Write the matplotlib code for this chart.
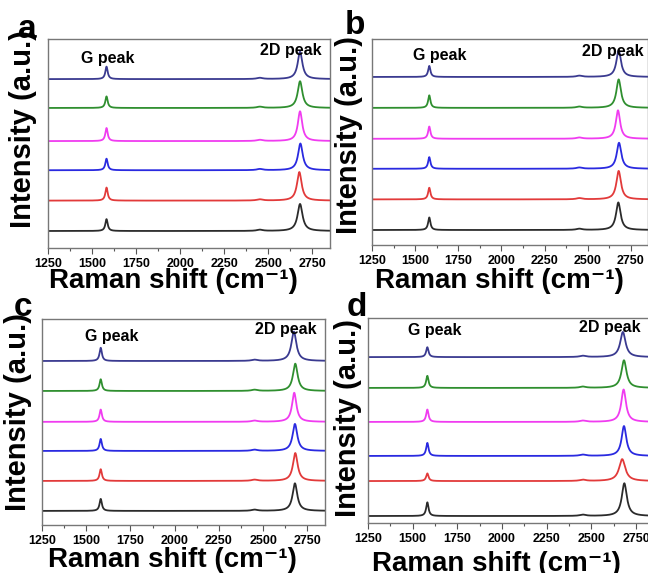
import numpy as np
import matplotlib.pyplot as plt
from matplotlib.ticker import MultipleLocator

plt.rcParams['font.family'] = ['Liberation Sans', 'DejaVu Sans']
plt.rcParams['font.weight'] = 'bold'

### Data (one row per trace, bottom to top)
### ------------------------------------------------------------
colors = ['#2b2b2b', '#e23a3a', '#2a2ae0', '#f03cf0', '#2f8f2f', '#3a3a90']
panel_labels = ['a', 'b', 'c', 'd']

# trace offsets (stack positions)
offsets_a = [0, 1.0, 2.0, 2.96, 4.05, 5.0]
offsets_b = [0, 1.0, 2.0, 2.98, 3.99, 5.0]
offsets_c = [0, 1.0, 2.0, 2.97, 4.0, 5.0]
offsets_d = [0, 1.1, 1.89, 2.96, 4.03, 5.0]

# G peak heights
g_a = [0.39, 0.43, 0.38, 0.43, 0.38, 0.41]
g_b = [0.41, 0.38, 0.38, 0.40, 0.41, 0.36]
g_c = [0.40, 0.39, 0.40, 0.41, 0.39, 0.44]
g_d = [0.43, 0.24, 0.41, 0.39, 0.38, 0.31]

# 2D peak heights
p2d_a = [0.89, 0.94, 0.88, 0.98, 0.88, 0.90]
p2d_b = [0.90, 0.93, 0.85, 0.93, 0.93, 0.87]
p2d_c = [0.92, 0.93, 0.90, 0.97, 0.91, 0.98]
p2d_d = [1.03, 0.69, 0.94, 1.02, 0.87, 0.79]

# 2D peak positions and widths (cm^-1)
pos2d_a = [2680, 2676, 2682, 2680, 2680, 2680]
pos2d_b = [2678, 2680, 2682, 2676, 2680, 2680]
pos2d_c = [2680, 2682, 2680, 2676, 2682, 2674]
pos2d_d = [2684, 2672, 2682, 2680, 2682, 2676]
w2d_a = [34, 32, 32, 30, 32, 32]
w2d_b = [32, 32, 32, 30, 32, 32]
w2d_c = [32, 32, 32, 30, 32, 34]
w2d_d = [34, 42, 32, 32, 34, 36]

g_pos = 1582
g_width = 16
dprime_pos = 2452
dprime_height = 0.04

ylims = [(-0.56, 6.32), (-0.49, 6.24), (-0.47, 6.4), (-0.22, 6.23)]

# axes rectangles in pixels: left, top, right, bottom
W, H = 648, 573
rects_px = [(48, 39, 330, 248), (372, 39, 648, 245),
            (42, 319, 325, 525), (368, 318, 654, 523)]
# annotation spots: (G x, G yfrac, 2D x, 2D yfrac)
notes = [(1437, 0.909, 2453, 0.947), (1488, 0.922, 2467, 0.94),
         (1493, 0.917, 2454, 0.951), (1474, 0.94, 2430, 0.956)]
letter_px = [(27, 29), (355, 25), (23, 308), (357, 307)]
# x-label centre and baseline, pixels
xlabel_px = [(173, 288), (499, 288), (172, 567), (496, 571)]
# y-label right edge and centre, pixels
ylabel_px = [(37, 129), (363, 135), (32, 412), (362, 418)]

offsets = [offsets_a, offsets_b, offsets_c, offsets_d]
gs = [g_a, g_b, g_c, g_d]
p2ds = [p2d_a, p2d_b, p2d_c, p2d_d]
pos2ds = [pos2d_a, pos2d_b, pos2d_c, pos2d_d]
w2ds = [w2d_a, w2d_b, w2d_c, w2d_d]


def lorentz(x, x0, h, fwhm):
    g = fwhm / 2
    return h * g**2 / ((x - x0)**2 + g**2)


x = np.linspace(1250, 2860, 1600)

fig = plt.figure(figsize=(W / 100, H / 100), dpi=100)

for k in range(4):
    l, t, r, b = rects_px[k]
    ax = fig.add_axes([l / W, 1 - b / H, (r - l) / W, (b - t) / H])

    ### Stacked spectra
    for i in range(6):
        y = (lorentz(x, g_pos, gs[k][i], g_width)
             + lorentz(x, pos2ds[k][i], p2ds[k][i], w2ds[k][i])
             + lorentz(x, dprime_pos, dprime_height, 40)
             + offsets[k][i])
        ax.plot(x, y, color=colors[i], lw=1.3)

    ### Decorate
    ax.set_xlim(1250, 2850)
    ax.set_ylim(*ylims[k])
    ax.set_yticks([])
    ax.xaxis.set_major_locator(MultipleLocator(250))
    ax.xaxis.set_minor_locator(MultipleLocator(125))
    ax.tick_params(axis='x', which='major', length=4, width=0.8,
                   labelsize=9, pad=3, color='#555555')
    ax.tick_params(axis='x', which='minor', length=2, width=0.8, color='#555555')
    for lab in ax.get_xticklabels():
        lab.set_fontweight('bold')
    for s in ax.spines.values():
        s.set_color('#777777')
        s.set_linewidth(1.0)

    ax.set_xlabel('Raman shift (cm\u207b\u00b9)', fontsize=20, fontweight='bold')
    cx, cy = xlabel_px[k]
    ax.xaxis.set_label_coords((cx - l) / (r - l), (b - cy) / (b - t))
    ax.xaxis.label.set_va('baseline')

    ax.set_ylabel('Intensity (a.u.)', fontsize=21, fontweight='bold')
    rx, ry = ylabel_px[k]
    ax.yaxis.set_label_coords((rx - l) / (r - l), (b - ry) / (b - t))

    gx, gy, dx, dy = notes[k]
    ax.text(gx, gy, 'G peak', transform=ax.get_xaxis_transform(),
            fontsize=11.5, fontweight='bold', va='center')
    ax.text(dx, dy, '2D peak', transform=ax.get_xaxis_transform(),
            fontsize=11.5, fontweight='bold', va='center')

    lx, ly = letter_px[k]
    fig.text(lx / W, 1 - ly / H, panel_labels[k], fontsize=24,
             fontweight='bold', ha='center', va='center')

fig.savefig('out.png', dpi=100)
